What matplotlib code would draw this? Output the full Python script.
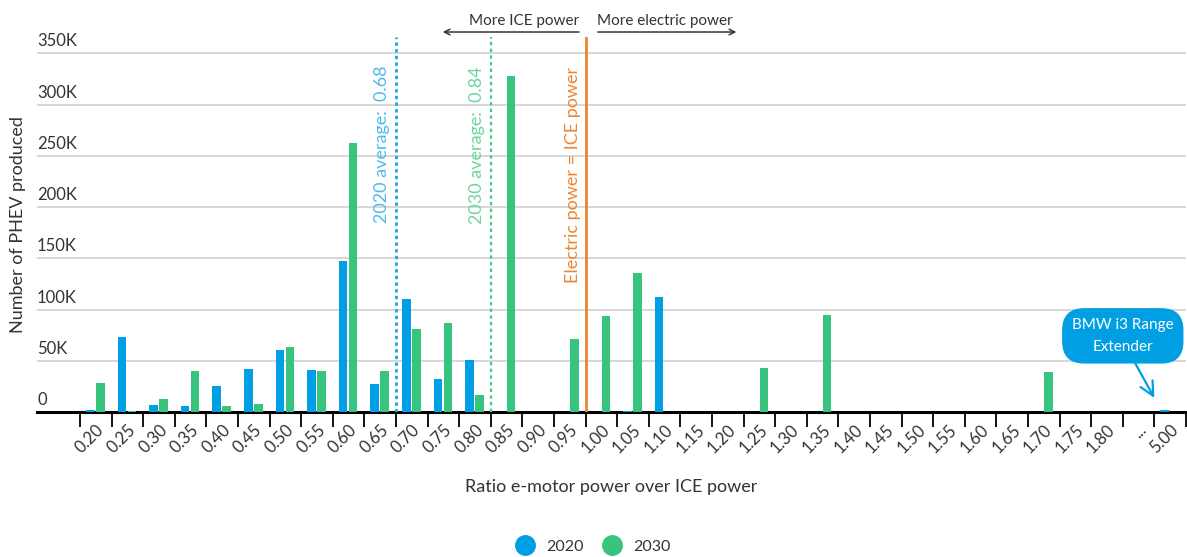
import matplotlib
matplotlib.use('Agg')
import matplotlib.pyplot as plt
import matplotlib.transforms as mtransforms
from matplotlib.lines import Line2D
import numpy as np

plt.rcParams['font.family'] = ['Lato', 'DejaVu Sans']

# ratio bins (e-motor power / ICE power)
ratio_labels = ['0.20', '0.25', '0.30', '0.35', '0.40', '0.45', '0.50', '0.55',
                '0.60', '0.65', '0.70', '0.75', '0.80', '0.85', '0.90', '0.95',
                '1.00', '1.05', '1.10', '1.15', '1.20', '1.25', '1.30', '1.35',
                '1.40', '1.45', '1.50', '1.55', '1.60', '1.65', '1.70', '1.75',
                '1.80', '...', '5.00']

# PHEVs produced, in thousands
phev_2020 = [2.2, 73.7, 7, 6.5, 26, 42.5, 60.4, 41, 147.5, 28,
             110, 32, 51, 0, 0, 0, 0, 0.8, 112, 0,
             0, 0, 0, 0, 0, 0, 0, 0, 0, 0,
             0, 0, 0, 0, 2]
phev_2030 = [29, 1, 13, 40.5, 6, 8, 64, 40, 262, 40,
             81, 87, 17, 328, 0, 71, 94, 135.5, 0, 0,
             0, 43, 0, 95, 0, 0, 0, 0, 0, 0,
             39, 0, 0, 0, 0]

avg_2020 = 0.68
avg_2030 = 0.84
parity_ratio = 1.00

y_ticks = [0, 50, 100, 150, 200, 250, 300, 350]
y_tick_labels = ['0', '50K', '100K', '150K', '200K', '250K', '300K', '350K']

c2020 = '#009fe3'
c2030 = '#36c47e'
corange = '#ea8533'
cgrid = '#d4d4d4'
ctext = '#333333'


def bin_edge(ratio):
    # line drawn at the left edge of the bin the value rounds into
    return ratio_labels.index('%.2f' % (round(ratio / 0.05) * 0.05)) - 0.5


fig = plt.figure(figsize=(11.87, 5.57), dpi=100)
ax = fig.add_axes([37 / 1187, 1 - 412.3 / 557, (1186 - 37) / 1187, (412.3 - 37) / 557])

x = np.arange(len(ratio_labels))
v20 = np.array(phev_2020) * 1000
v30 = np.array(phev_2030) * 1000
ax.bar(x - 0.175, v20, width=0.27, color=c2020, zorder=3)
ax.bar(x + 0.145, v30, width=0.27, color=c2030, zorder=3)

ax.set_xlim(-1.86, len(ratio_labels) - 0.5)
ax.set_ylim(0, 365800)

# grid + y labels sitting above the gridlines
for t, lab in zip(y_ticks, y_tick_labels):
    if t > 0:
        ax.axhline(t * 1000, color=cgrid, lw=1.3, zorder=1)
    ax.text(0, t * 1000, lab, transform=mtransforms.offset_copy(
        ax.get_yaxis_transform(), fig=fig, x=0, y=4, units='dots'),
        ha='left', va='bottom', fontsize=12, color=ctext)
ax.set_yticks([])

for s in ['top', 'right', 'left']:
    ax.spines[s].set_visible(False)
ax.spines['bottom'].set_linewidth(2.2)
ax.spines['bottom'].set_color('black')

ax.set_xticks(x)
ax.set_xticklabels(ratio_labels, rotation=45, ha='right', va='top',
                   rotation_mode='anchor', fontsize=12, color=ctext)
ax.tick_params(axis='x', which='major', length=0, pad=7)
ax.set_xticks(np.arange(len(ratio_labels) + 1) - 0.5, minor=True)
ax.tick_params(axis='x', which='minor', length=11, width=1.3, color='black')

ax.set_xlabel('Ratio e-motor power over ICE power', fontsize=13, color=ctext)
ax.xaxis.set_label_coords(0.5, -0.178)
ax.set_ylabel('Number of PHEV produced', fontsize=13, color=ctext)
ax.yaxis.set_label_coords(-0.0095, 0.5)

# average lines and parity line
p20 = bin_edge(avg_2020)
p30 = bin_edge(avg_2030)
p10 = bin_edge(parity_ratio)
ax.axvline(p20, color='#1aa6e4', lw=2, ls=(0, (1.2, 1.2)), zorder=4)
ax.axvline(p30, color='#3fcb86', lw=1.6, ls=(0, (1.5, 1.5)), zorder=4)
ax.axvline(p10, color=corange, lw=2, zorder=4)
ax.text(p20 - 0.44, 338500, '2020 average:  %.2f' % avg_2020, rotation=90,
        ha='center', va='top', fontsize=13, color='#4dbbec')
ax.text(p30 - 0.45, 337000, '2030 average:  %.2f' % avg_2030, rotation=90,
        ha='center', va='top', fontsize=13, color='#6dd59f')
ax.text(p10 - 0.41, 337000, 'Electric power = ICE power', rotation=90,
        ha='center', va='top', fontsize=13, color=corange)

# direction arrows above the plot
trans = ax.get_xaxis_transform()
ax.annotate('', xy=(10.89, 1.0133), xytext=(15.38, 1.0133), xycoords=trans,
            textcoords=trans, annotation_clip=False,
            arrowprops=dict(arrowstyle='->', color=ctext, lw=1.1))
ax.annotate('', xy=(20.36, 1.0133), xytext=(15.8, 1.0133), xycoords=trans,
            textcoords=trans, annotation_clip=False,
            arrowprops=dict(arrowstyle='->', color=ctext, lw=1.1))
ax.text(15.29, 1.043, 'More ICE power', transform=trans, ha='right', va='center',
        fontsize=11, color=ctext)
ax.text(15.86, 1.043, 'More electric power', transform=trans, ha='left', va='center',
        fontsize=11, color=ctext)

# BMW callout
ax.annotate('BMW i3 Range\nExtender', xy=(33.5, 14000), xytext=(32.5, 74500),
            ha='center', va='center', fontsize=11, color='white', linespacing=1.7,
            bbox=dict(boxstyle='round,pad=0.6,rounding_size=1.4', fc=c2020, ec=c2020),
            arrowprops=dict(arrowstyle='->,head_length=0.9,head_width=0.45', color=c2020,
                            lw=1.6, relpos=(0.57, 0), shrinkA=0, shrinkB=0),
            zorder=6)

handles = [Line2D([], [], marker='o', ls='none', ms=14, color=c2020, label='2020'),
           Line2D([], [], marker='o', ls='none', ms=14, color=c2030, label='2030')]
fig.legend(handles=handles, loc='center', bbox_to_anchor=(0.497, 0.018), ncol=2,
           frameon=False, fontsize=11.5, handletextpad=0.3, columnspacing=0.8,
           labelcolor=ctext)

fig.savefig('out.png', dpi=100)
